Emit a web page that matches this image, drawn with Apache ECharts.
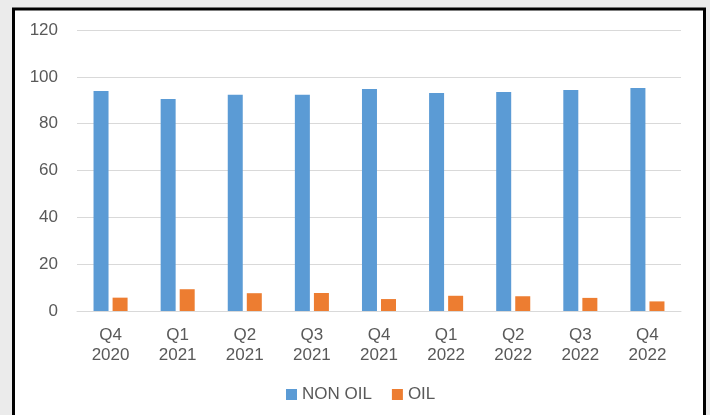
<!DOCTYPE html>
<html>
<head>
<meta charset="utf-8">
<script src="https://cdn.jsdelivr.net/npm/echarts@6/dist/echarts.min.js"></script>
<style>
  html, body { margin: 0; padding: 0; background: #ebebeb; }
  #main { width: 710px; height: 415px; }
</style>
</head>
<body>
<div id="main"></div>
<script>
// quarters on the x axis
var quarters = ['Q4\n2020', 'Q1\n2021', 'Q2\n2021', 'Q3\n2021', 'Q4\n2021',
  'Q1\n2022', 'Q2\n2022', 'Q3\n2022', 'Q4\n2022'];
var nonOil = [93.9, 90.5, 92.4, 92.4, 94.8, 93.1, 93.5, 94.4, 95.2];
var oil = [5.7, 9.3, 7.6, 7.7, 5.1, 6.5, 6.3, 5.6, 4.1];
var seriesNames = ['NON OIL', 'OIL'];

var chart = echarts.init(document.getElementById('main'), null, { renderer: 'canvas' });

var labelFont = 'Liberation Sans, Arial, sans-serif';

var option = {
  backgroundColor: '#ebebeb',
  animation: false,
  // white panel with black frame
  graphic: [{
    type: 'rect',
    z: -10,
    shape: { x: 13.5, y: 9, width: 691, height: 420 },
    style: { fill: '#ffffff', stroke: '#000000', lineWidth: 3 }
  }],
  grid: {
    left: 77,
    right: 29,
    top: 30,
    bottom: 104
  },
  legend: {
    data: seriesNames,
    left: 281,
    top: 381,
    itemWidth: 11,
    itemHeight: 11,
    itemGap: 20,
    icon: 'rect',
    textStyle: { color: '#595959', fontSize: 17, fontFamily: labelFont }
  },
  xAxis: {
    type: 'category',
    data: quarters,
    axisLine: { lineStyle: { color: '#d9d9d9', width: 1 } },
    axisTick: { show: false },
    axisLabel: {
      color: '#595959',
      fontSize: 17,
      fontFamily: labelFont,
      lineHeight: 20,
      margin: 14
    }
  },
  yAxis: {
    type: 'value',
    min: 0,
    max: 120,
    interval: 20,
    axisLine: { show: false },
    axisTick: { show: false },
    splitLine: { lineStyle: { color: '#d9d9d9', width: 1 } },
    axisLabel: {
      color: '#595959',
      fontSize: 17,
      fontFamily: labelFont,
      margin: 19
    }
  },
  series: [{
    name: seriesNames[0],
    type: 'bar',
    data: nonOil,
    barWidth: 15,
    barGap: '27%',
    itemStyle: { color: '#5b9bd5' }
  }, {
    name: seriesNames[1],
    type: 'bar',
    data: oil,
    barWidth: 15,
    barGap: '27%',
    itemStyle: { color: '#ed7d31' }
  }]
};

chart.setOption(option);
</script>
</body>
</html>
